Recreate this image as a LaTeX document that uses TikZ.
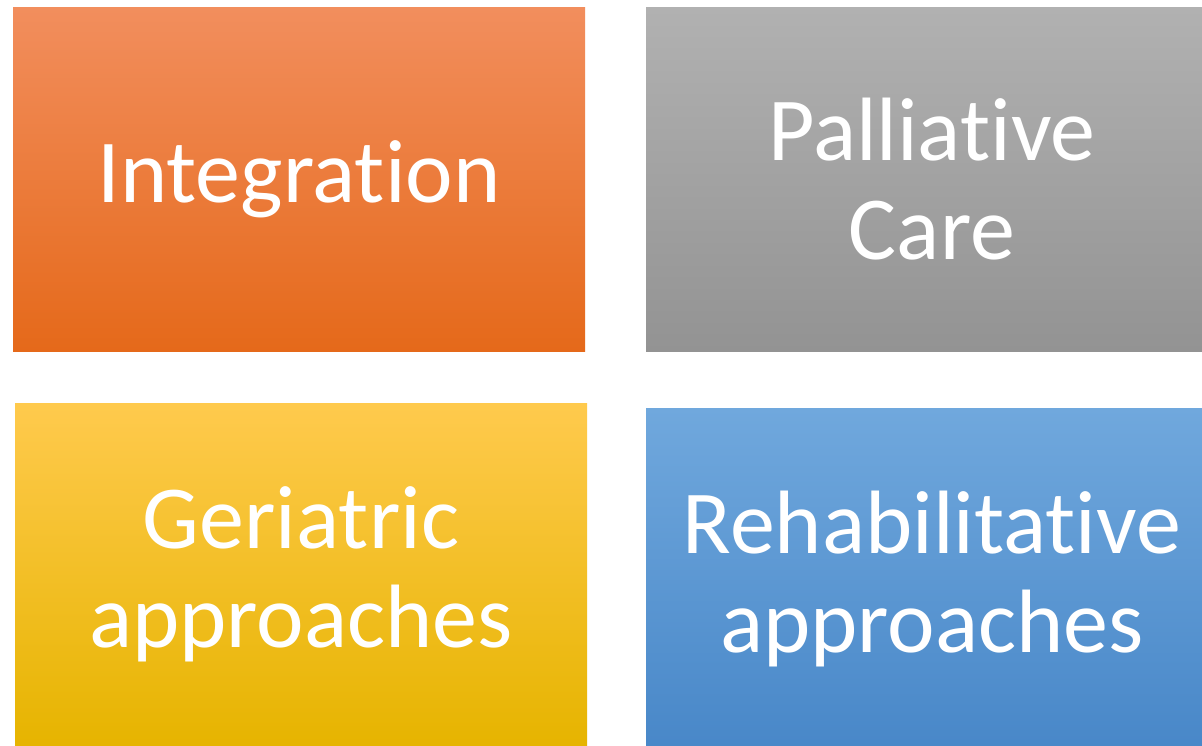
\documentclass[tikz,border=0pt]{standalone}
\usepackage{fontspec}
\setmainfont[Ligatures=NoCommon]{Carlito}
\definecolor{orT}{HTML}{F28E5D}
\definecolor{orM}{HTML}{F47B28}
\definecolor{orB}{HTML}{E5691A}
\definecolor{grT}{HTML}{B1B1B1}
\definecolor{grM}{HTML}{A5A5A5}
\definecolor{grB}{HTML}{939393}
\definecolor{yeT}{HTML}{FFCA4D}
\definecolor{yeM}{HTML}{FFC000}
\definecolor{yeB}{HTML}{E6B400}
\definecolor{blT}{HTML}{70A8DD}
\definecolor{blM}{HTML}{5B9BD5}
\definecolor{blB}{HTML}{4887C8}
\tikzset{
  tile/.style={draw=none, rectangle, inner sep=0pt,
    text=white, align=center,
    font=\fontsize{90}{99}\selectfont},
}
\begin{document}
\begin{tikzpicture}[x=1pt,y=-1pt]
\useasboundingbox[fill=white] (0,0) rectangle (1202,746);
\begin{scope}
\clip (0,0) rectangle (1202,746);
\node[tile, minimum width=572pt, minimum height=343pt,
  top color=orT, middle color=orM, bottom color=orB] (integ) at (299,179.5) {Integration};
\node[tile, minimum width=572pt, minimum height=343pt,
  top color=grT, middle color=grM, bottom color=grB] (pall) at (932,179.5) {Palliative\\Care};
\node[tile, minimum width=572pt, minimum height=343pt,
  top color=yeT, middle color=yeM, bottom color=yeB] (geri) at (301,574.5) {Geriatric\\approaches};
\node[tile, minimum width=572pt, minimum height=343pt,
  top color=blT, middle color=blM, bottom color=blB] (rehab) at (932,579.5) {Rehabilitative\\approaches};
\end{scope}
\end{tikzpicture}
\end{document}
